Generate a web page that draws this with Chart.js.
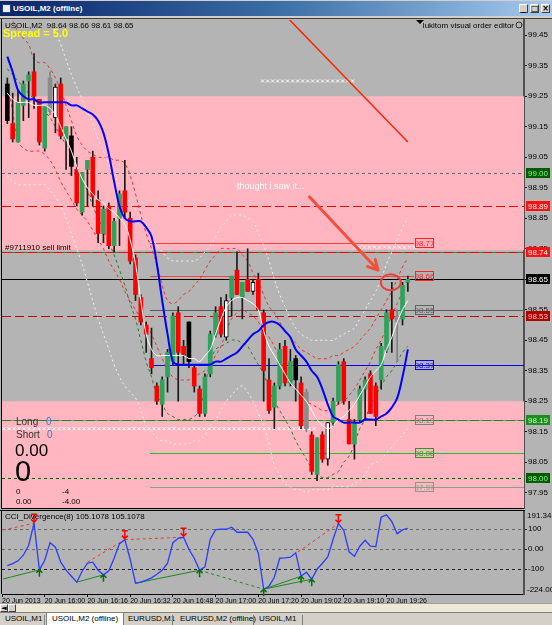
<!DOCTYPE html>
<html><head><meta charset="utf-8"><title>USOIL,M2</title>
<script src="https://cdn.jsdelivr.net/npm/chart.js@4.4.1/dist/chart.umd.min.js"></script>
<style>
*{box-sizing:border-box}
html,body{margin:0;padding:0;width:552px;height:625px;overflow:hidden;background:#d4d0c8;font-family:"Liberation Sans",Arial,sans-serif}
#title{position:absolute;left:0;top:1px;width:552px;height:15px;background:linear-gradient(to right,#0a246a 0%,#3a6ea5 50%,#a6caf0 100%)}
#title .ico{position:absolute;left:2px;top:3px;width:9px;height:9px;background:#e8eef8;border:1px solid #203c8c}
#title .txt{position:absolute;left:13px;top:1px;color:#fff;font:bold 8px "Liberation Sans",Arial,sans-serif;line-height:13px}
.wbtn{position:absolute;top:3px;width:9px;height:9px;background:#d4d0c8;border:1px solid;border-color:#fff #404040 #404040 #fff;font:bold 8px "DejaVu Sans";line-height:7px;text-align:center;color:#000}
#main{position:absolute;left:0;top:18px}
#cci{position:absolute;left:0;top:510px}
#scroll{position:absolute;left:0;top:603px;width:552px;height:9px;background:#ece9d8;border-top:1px solid #a0a0a0}
#scroll .b{position:absolute;top:0;width:8px;height:8px;background:#d4d0c8;border:1px solid;border-color:#fff #404040 #404040 #fff;font:7px "DejaVu Sans";line-height:6px;text-align:center}
#tabs{position:absolute;left:0;top:612px;width:552px;height:13px;background:#d4d0c8;border-top:1px solid #808080}
.tab{position:absolute;top:0;height:13px;font:8px "Liberation Sans",Arial;line-height:12px;color:#000;white-space:nowrap}
.tab.active{background:#fff;border:1px solid #808080;border-top:none;padding:0 5px}
.sep{position:absolute;top:2px;width:1px;height:10px;background:#808080}
</style></head>
<body>
<div id="title"><div class="ico"></div><div class="txt">USOIL,M2 (offline)</div>
<div class="wbtn" style="left:519px">_</div><div class="wbtn" style="left:530px">□</div><div class="wbtn" style="left:541px">×</div></div>
<canvas id="main" width="552" height="492"></canvas>
<canvas id="cci" width="552" height="93"></canvas>
<div id="scroll"><div class="b" style="left:0">◄</div><div class="b" style="left:8px"></div></div>
<div id="tabs">
<div class="tab" style="left:5px">USOIL,M1</div><div class="sep" style="left:44px"></div>
<div class="tab active" style="left:46px">USOIL,M2 (offline)</div>
<div class="tab" style="left:128px">EURUSD,M1</div><div class="sep" style="left:172px"></div>
<div class="tab" style="left:180px">EURUSD,M2 (offline)</div><div class="sep" style="left:253px"></div>
<div class="tab" style="left:259px">USOIL,M1</div><div class="sep" style="left:302px"></div>
</div>
<script>
// ---------------- DATA ----------------
const candleOpen  = [99.29,99.16,99.10,99.22,99.30,99.33,99.24,99.08,99.31,99.18,99.29,99.11,99.12,99.01,98.87,99.01,99.05,98.91,98.80,98.89,98.76,98.85,98.94,98.85,98.72,98.59,98.50,98.39,98.30,98.24,98.33,98.38,98.54,98.43,98.51,98.36,98.29,98.21,98.34,98.47,98.56,98.46,98.59,98.68,98.59,98.65,98.61,98.65,98.54,98.32,98.23,98.30,98.43,98.31,98.39,98.31,98.28,98.14,98.01,98.14,98.06,98.18,98.25,98.38,98.19,98.11,98.19,98.29,98.34,98.30,98.32,98.42,98.55,98.53,98.52,98.64];
const candleHigh  = [99.31,99.26,99.27,99.30,99.33,99.39,99.24,99.22,99.33,99.29,99.31,99.15,99.15,99.05,99.00,99.04,99.07,98.94,98.89,98.90,98.85,98.94,99.04,98.87,98.73,98.60,98.51,98.49,98.31,98.33,98.42,98.54,98.56,98.45,98.51,98.37,98.30,98.34,98.48,98.56,98.59,98.60,98.66,98.74,98.64,98.75,98.65,98.67,98.55,98.39,98.31,98.44,98.45,98.42,98.40,98.33,98.29,98.15,98.13,98.15,98.18,98.26,98.38,98.39,98.25,98.19,98.30,98.33,98.35,98.31,98.44,98.55,98.64,98.55,98.64,98.66];
const candleLow   = [99.16,99.10,99.10,99.17,99.18,99.21,99.09,99.07,99.19,99.13,99.11,99.01,98.99,98.89,98.86,98.89,98.89,98.77,98.77,98.75,98.74,98.76,98.85,98.70,98.58,98.50,98.41,98.34,98.24,98.20,98.28,98.37,98.25,98.37,98.36,98.28,98.20,98.20,98.33,98.46,98.46,98.45,98.53,98.60,98.52,98.61,98.60,98.55,98.25,98.21,98.16,98.29,98.30,98.30,98.25,98.16,98.15,98.01,97.99,98.05,98.04,98.17,98.24,98.24,98.11,98.06,98.18,98.19,98.21,98.17,98.29,98.41,98.41,98.38,98.50,98.61];
const candleClose = [99.17,99.11,99.23,99.29,99.32,99.25,99.10,99.22,99.20,99.28,99.12,99.15,99.02,98.90,99.00,99.04,98.92,98.80,98.88,98.76,98.84,98.93,98.87,98.71,98.60,98.51,98.47,98.36,98.25,98.32,98.41,98.53,98.41,98.40,98.38,98.30,98.21,98.33,98.47,98.54,98.47,98.58,98.66,98.60,98.64,98.61,98.64,98.55,98.35,98.22,98.30,98.42,98.31,98.38,98.32,98.17,98.16,98.02,98.13,98.06,98.18,98.25,98.37,98.25,98.11,98.18,98.29,98.32,98.21,98.20,98.43,98.54,98.52,98.51,98.63,98.65];
// bar category: g = up, r = down, k = black, w = white, s = grey
const candleKind  = ['k','r','g','g','g','r','r','g','s','w','r','g','k','r','g','g','r','r','g','r','g','g','r','r','r','r','r','r','r','g','g','g','r','r','k','r','r','g','g','g','r','w','g','r','g','r','w','r','r','r','g','g','r','g','k','r','s','r','g','r','w','g','g','r','r','g','g','g','r','r','g','g','r','s','g','g'];

const maBlue  = [99.38,99.33,99.27,99.25,99.24,99.24,99.23,99.23,99.23,99.23,99.23,99.23,99.22,99.22,99.21,99.20,99.19,99.17,99.13,99.06,98.97,98.89,98.85,98.84,98.84,98.84,98.82,98.79,98.70,98.58,98.47,98.38,98.37,98.37,98.37,98.37,98.37,98.37,98.37,98.38,98.38,98.39,98.40,98.41,98.43,98.45,98.47,98.48,98.50,98.51,98.51,98.50,98.48,98.46,98.42,98.40,98.38,98.35,98.33,98.29,98.24,98.20,98.19,98.18,98.18,98.18,98.18,98.19,98.19,98.19,98.20,98.21,98.23,98.26,98.33,98.42];
const maWhite = [99.26,99.24,99.23,99.23,99.23,99.22,99.22,99.22,99.21,99.19,99.15,99.11,99.07,99.02,98.98,98.95,98.93,98.91,98.90,98.88,98.87,98.85,98.83,98.78,98.70,98.58,98.47,98.42,98.40,98.40,98.40,98.40,98.40,98.40,98.39,98.39,98.38,98.40,98.42,98.47,98.52,98.56,98.58,98.59,98.59,98.58,98.57,98.55,98.48,98.43,98.40,98.37,98.34,98.31,98.29,98.27,98.25,98.22,98.19,98.17,98.16,98.17,98.19,98.20,98.22,98.24,98.27,98.30,98.33,98.35,98.37,98.42,98.46,98.51,98.55,98.58];
const bandUpper = [99.79,99.75,99.71,99.67,99.63,99.60,99.57,99.53,99.49,99.46,99.42,99.37,99.32,99.28,99.24,99.20,99.16,99.11,99.07,99.03,98.99,98.96,98.93,98.90,98.88,98.85,98.83,98.79,98.76,98.74,98.72,98.71,98.71,98.71,98.71,98.71,98.72,98.74,98.76,98.79,98.82,98.84,98.86,98.86,98.86,98.85,98.84,98.80,98.76,98.71,98.65,98.60,98.56,98.52,98.49,98.47,98.46,98.45,98.45,98.45,98.45,98.45,98.46,98.47,98.48,98.49,98.52,98.55,98.58,98.61,98.65,98.70,98.74,98.78,98.82,98.85];
const bandLower = [98.99,98.97,98.96,98.96,98.96,98.96,98.96,98.96,98.94,98.92,98.89,98.85,98.80,98.75,98.70,98.64,98.58,98.52,98.47,98.42,98.37,98.33,98.30,98.28,98.26,98.22,98.17,98.15,98.13,98.12,98.12,98.11,98.11,98.11,98.11,98.12,98.12,98.14,98.17,98.19,98.22,98.25,98.27,98.29,98.30,98.28,98.25,98.21,98.17,98.11,98.04,98.01,97.98,97.97,97.96,97.96,97.95,97.96,97.96,97.96,97.96,97.97,97.97,97.97,97.97,97.98,97.99,98.01,98.04,98.05,98.06,98.08,98.10,98.12,98.14,98.16];
const envUpper = [99.53,99.50,99.46,99.44,99.42,99.37,99.36,99.36,99.34,99.31,99.27,99.22,99.17,99.12,99.09,99.07,99.06,99.05,99.05,99.05,99.04,99.04,99.03,98.99,98.93,98.86,98.80,98.75,98.70,98.63,98.58,98.57,98.58,98.60,98.61,98.63,98.65,98.68,98.71,98.73,98.75,98.75,98.75,98.75,98.73,98.71,98.67,98.64,98.60,98.56,98.54,98.51,98.48,98.46,98.44,98.42,98.41,98.40,98.39,98.39,98.39,98.40,98.40,98.41,98.42,98.43,98.45,98.47,98.49,98.52,98.55,98.58,98.61,98.65,98.69,98.72];
const envLower = [99.30,99.20,99.10,99.08,99.07,99.07,99.07,99.06,99.04,99.01,98.97,98.94,98.91,98.88,98.86,98.84,98.81,98.78,98.75,98.71,98.68,98.65,98.61,98.58,98.55,98.52,98.50,98.47,98.43,98.39,98.35,98.33,98.32,98.32,98.32,98.33,98.34,98.35,98.37,98.40,98.43,98.48,98.52,98.54,98.55,98.54,98.53,98.51,98.48,98.46,98.43,98.39,98.35,98.33,98.30,98.28,98.25,98.24,98.23,98.22,98.22,98.23,98.24,98.25,98.27,98.29,98.32,98.35,98.38,98.42,98.45,98.49,98.53,98.57,98.61,98.65];
const channelLow = [99.34,99.32,99.30,99.28,99.26,99.24,99.22,99.20,99.18,99.15,99.12,99.09,99.06,99.02,98.97,98.94,98.89,98.85,98.81,98.77,98.73,98.68,98.63,98.57,98.52,98.45,98.38,98.33,98.27,98.24,98.21,98.20,98.19,98.19,98.19,98.20,98.22,98.30,98.38,98.42,98.43,98.44,98.45,98.45,98.44,98.43,98.40,98.37,98.34,98.29,98.25,98.22,98.19,98.16,98.12,98.09,98.06,98.03,98.01,98.00,98.00,98.01,98.02,98.05,98.07,98.11,98.16,98.19,98.24,98.27,98.30,98.33,98.35,98.38,98.41,98.43];

const trendLine = [[51.5, 99.525], [75, 99.10]];          // red trend line (bar index, price)
const zoneTop    = [99.25, 98.25];
const zoneBottom = [98.745, 97.90];
const levelPrices = [99.00, 98.89, 98.77, 98.74, 98.66, 98.65, 98.55, 98.53, 98.37, 98.19, 98.08, 98.00, 97.97];
const levelTags   = ['98.77','98.66','98.55','98.37','98.19','98.08','97.97'];
const levelTagPrices = [98.77, 98.66, 98.55, 98.37, 98.19, 98.08, 97.97];
const axisTagPrices = [99.00, 98.89, 98.74, 98.65, 98.53, 98.19, 98.00];
const priceTicks = [99.45,99.35,99.25,99.15,99.05,98.95,98.85,98.75,98.65,98.55,98.45,98.35,98.25,98.15,98.05,97.95];
const noteArrow = [[56.6, 98.92], [69.4, 98.68]];
const noteCircle = [71.8, 98.64];

const cciValues = [-82,-72,-58,-30,20,130,-103,-55,33,10,-65,-105,-135,-165,-110,-70,-65,-105,-128,-108,-45,28,48,-50,-170,-165,-155,-143,-125,-105,-70,33,55,60,0,-45,-105,-88,50,98,100,100,110,85,85,85,50,-20,-200,-185,-140,-45,-43,-40,-18,-135,-115,-150,-100,-70,-38,50,128,95,-13,-35,15,45,15,13,160,172,138,78,97,105];
const bearDivLines = [[-0.8,96,5,130],[15,-65,22,48],[22,48,33,60],[54.4,-14,62,128]];
const bullDivLines = [[-0.8,-149,6,-103],[13,-165,18,-128],[24,-170,36,-105],[48,-200,55,-135],[48,-200,57,-150]];
const bullDivDashed = [[36,-105,48,-200]];
const bearArrowIdx = [5,22,33,62];
const bullArrowIdx = [6,18,36,48,55,57];
const cciTicks = [100, 0, -100];
const cciTickLabels = ['100','0.00','-100'];
const cciMax = 191.3425, cciMin = -224.005;

const timeTickIdx = [-1,7,15,23,31,39,47,55,63,71];
const timeLabels = ['20 Jun 2013','20 Jun 16:00','20 Jun 16:16','20 Jun 16:32','20 Jun 16:48','20 Jun 17:00','20 Jun 17:20','20 Jun 19:02','20 Jun 19:10','20 Jun 19:26'];

// ---------------- STYLE ----------------
const BG = '#b4b4b4', PINK = '#ffb6c1';
const FONT = '"Liberation Sans", Arial, sans-serif';
const kindColor = {g:'#2ea35a', r:'#ff0000', k:'#000000', w:'#ffffff', s:'#8c8c8c'};
const XMIN = -1, XMAX = 96.75;
const toXY = arr => arr.map((v,i)=>({x:i, y:v}));
const seg = s => [{x:s[0],y:s[1]},{x:s[2],y:s[3]}];

const levelStyle = {
  '99':    {c:'#6a6a6a', d:[3,3], from:null},
  '98.89': {c:'#ff0000', d:[9,4], from:null},
  '98.77': {c:'#ff4040', d:[], from:26.7, to:76.2},
  '98.74': {c:'#ff0000', d:[9,4], from:null, under:'#2e8b2e'},
  '98.66': {c:'#ff4040', d:[], from:26.7, to:76.2},
  '98.65': {c:'#000000', d:[], from:null},
  '98.55': {c:'#5c5c5c', d:[], from:26.7},
  '98.53': {c:'#c00000', d:[9,4], from:null},
  '98.37': {c:'#0000ff', d:[], from:26.7},
  '98.19': {c:'#228b22', d:[9,3], from:null, under:'#a08080'},
  '98.08': {c:'#22c022', d:[], from:26.7},
  '98':    {c:'#006400', d:[3,3], from:null},
  '97.97': {c:'#8aa08a', d:[], from:26.7}
};
const tagStyle = {'98.77':'#ff2020','98.66':'#ff2020','98.55':'#606060','98.37':'#0000ff','98.19':'#808080','98.08':'#20a020','97.97':'#80a080'};
const axisTagStyle = {'99':['#005a00','#7cff7c'],'98.89':['#ff1010','#ffffff'],'98.74':['#ff1010','#ffffff'],'98.65':['#000000','#ffffff'],'98.53':['#b00000','#ffc0c0'],'98.19':['#1e8c1e','#c8ffc8'],'98':['#005a00','#7cff7c']};

function xRow(ctx, x1, x2, y){
  ctx.strokeStyle = '#ffffff'; ctx.lineWidth = 1; ctx.setLineDash([]);
  ctx.beginPath();
  for (let x = x1; x < x2; x += 5){ ctx.moveTo(x-1.5,y-1.5); ctx.lineTo(x+1.5,y+1.5); ctx.moveTo(x+1.5,y-1.5); ctx.lineTo(x-1.5,y+1.5); }
  ctx.stroke();
}

const mainDecor = {
  id:'mainDecor',
  beforeDraw(chart){
    const {ctx,width,height} = chart;
    ctx.save(); ctx.fillStyle = BG; ctx.fillRect(0,0,width,height); ctx.restore();
  },
  beforeDatasetsDraw(chart){
    const {ctx, chartArea:a, scales:{x,y}} = chart;
    ctx.save();
    ctx.beginPath(); ctx.rect(a.left,a.top,a.right-a.left,a.bottom-a.top); ctx.clip();
    ctx.fillStyle = PINK;
    zoneTop.forEach((t,k)=>{ const y1=y.getPixelForValue(t), y2=y.getPixelForValue(zoneBottom[k]); ctx.fillRect(a.left,y1,a.right-a.left,y2-y1); });
    levelPrices.forEach(p=>{
      const st = levelStyle[String(p)]; if(!st) return;
      const yy = Math.round(y.getPixelForValue(p))+0.5;
      const x1 = st.from==null ? a.left : x.getPixelForValue(st.from);
      const x2 = st.to==null ? a.right : x.getPixelForValue(st.to);
      ctx.lineWidth = 1;
      if (st.under){ ctx.setLineDash([]); ctx.strokeStyle = st.under; ctx.beginPath(); ctx.moveTo(x1,yy); ctx.lineTo(x2,yy); ctx.stroke(); }
      ctx.setLineDash(st.d); ctx.strokeStyle = st.c;
      ctx.beginPath(); ctx.moveTo(x1,yy); ctx.lineTo(x2,yy); ctx.stroke();
    });
    ctx.setLineDash([]);
    xRow(ctx, a.left+2, x.getPixelForValue(58.2), y.getPixelForValue(98.16));
    xRow(ctx, x.getPixelForValue(47.8), x.getPixelForValue(65), y.getPixelForValue(99.30));
    xRow(ctx, x.getPixelForValue(65), x.getPixelForValue(76.3), y.getPixelForValue(98.755));
    ctx.restore();
  },
  afterDatasetsDraw(chart){
    const {ctx, chartArea:a, scales:{x,y}} = chart;
    ctx.save();
    ctx.beginPath(); ctx.rect(a.left,a.top,a.right-a.left,a.bottom-a.top); ctx.clip();
    const ax1=x.getPixelForValue(noteArrow[0][0]), ay1=y.getPixelForValue(noteArrow[0][1]);
    const ax2=x.getPixelForValue(noteArrow[1][0]), ay2=y.getPixelForValue(noteArrow[1][1]);
    const ang=Math.atan2(ay2-ay1,ax2-ax1);
    ctx.strokeStyle='#f0503c'; ctx.lineWidth=3; ctx.lineCap='round';
    ctx.beginPath(); ctx.moveTo(ax1,ay1); ctx.lineTo(ax2,ay2);
    ctx.moveTo(ax2,ay2); ctx.lineTo(ax2-11*Math.cos(ang-0.5), ay2-11*Math.sin(ang-0.5));
    ctx.moveTo(ax2,ay2); ctx.lineTo(ax2-11*Math.cos(ang+0.5), ay2-11*Math.sin(ang+0.5));
    ctx.stroke();
    ctx.lineWidth=2; ctx.strokeStyle='#e8403a';
    ctx.beginPath(); ctx.ellipse(x.getPixelForValue(noteCircle[0]), y.getPixelForValue(noteCircle[1]), 10, 8, 0, 0, Math.PI*2); ctx.stroke();
    ctx.fillStyle='#ffffff'; ctx.font='9px '+FONT; ctx.textBaseline='middle'; ctx.textAlign='left';
    ctx.fillText('thought i saw it...', x.getPixelForValue(43.0), y.getPixelForValue(98.955));
    ctx.font='8px '+FONT; ctx.textAlign='center';
    levelTagPrices.forEach((p,k)=>{
      const c = tagStyle[String(p)]; const yy=Math.round(y.getPixelForValue(p));
      const bx = Math.round(x.getPixelForValue(76.3));
      ctx.strokeStyle=c; ctx.lineWidth=1; ctx.strokeRect(bx+0.5, yy-4.5, 18, 9);
      ctx.fillStyle=c; ctx.fillText(levelTags[k], bx+9.5, yy+0.5);
    });
    ctx.textAlign='left'; ctx.textBaseline='alphabetic';
    ctx.fillStyle='#000'; ctx.font='8px '+FONT;
    ctx.fillText('#9711910 sell limit', a.left+3, y.getPixelForValue(98.74)-2);
    ctx.font='8px '+FONT; ctx.fillText('USOIL,M2  98.64 98.66 98.61 98.65', a.left+3, a.top+8);
    ctx.font='bold 11px '+FONT; ctx.fillStyle='#ffff00'; ctx.fillText('Spread = 5.0', a.left+1, a.top+17);
    ctx.font='8px '+FONT; ctx.fillStyle='#000'; ctx.textAlign='right';
    ctx.fillText('lukitom visual order editor', a.right-10, a.top+8);
    ctx.beginPath(); ctx.strokeStyle='#333'; ctx.lineWidth=1; ctx.arc(a.right-5, a.top+5, 3, 0, Math.PI*2); ctx.stroke();
    ctx.fillStyle='#000'; ctx.beginPath(); ctx.moveTo(416,a.top); ctx.lineTo(424,a.top); ctx.lineTo(420,a.top+4); ctx.closePath(); ctx.fill();
    ctx.textAlign='left';
    const yl = y.getPixelForValue(98.19);
    ctx.font='10px '+FONT; ctx.fillStyle='#333'; ctx.fillText('Long', 16, yl+5);
    ctx.fillStyle='#3c78c8'; ctx.fillText('0', 46, yl+5);
    ctx.fillStyle='#333'; ctx.fillText('Short', 16, yl+18);
    ctx.fillStyle='#3c78c8'; ctx.fillText('0', 47, yl+18);
    ctx.fillStyle='#000'; ctx.font='17px '+FONT; ctx.fillText('0.00', 15, yl+36);
    ctx.font='29px '+FONT; ctx.fillText('0', 15, yl+61);
    ctx.font='8px '+FONT; ctx.fillText('0', 16, yl+74); ctx.fillText('-4', 62, yl+74);
    ctx.fillText('0.00', 16, yl+84); ctx.fillText('-4.00', 62, yl+84);
    ctx.restore();
    ctx.save(); ctx.font='8px '+FONT; ctx.textBaseline='middle'; ctx.textAlign='left';
    axisTagPrices.forEach(p=>{
      const c=axisTagStyle[String(p)]; const yy=Math.round(y.getPixelForValue(p));
      ctx.fillStyle=c[0]; ctx.fillRect(a.right+2, yy-5, 24, 10);
      ctx.fillStyle=c[1]; ctx.fillText(p.toFixed(2), a.right+4, yy+0.5);
    });
    ctx.fillStyle='#404040'; ctx.fillRect(0, a.top-2, chart.width, 1);
    ctx.fillStyle='#000'; ctx.fillRect(a.left-1, a.top-1, 1, a.bottom-a.top+2);
    ctx.fillRect(a.left-1, a.bottom, a.right-a.left+1, 1);
    ctx.restore();
  }
};

const lineDS = (data, color, width, dash, order) => ({type:'line', data, borderColor:color, borderWidth:width, borderDash:dash, pointRadius:0, tension:0.35, order, fill:false});

new Chart(document.getElementById('main'), {
  type:'bar',
  data:{datasets:[
    lineDS(trendLine.map(p=>({x:p[0],y:p[1]})), '#ff2400', 1.5, [], 0),
    lineDS(toXY(maBlue), '#0000ff', 2, [], 1),
    lineDS(toXY(maWhite), '#ffffff', 1, [], 1),
    {type:'bar', data: candleOpen.map((o,i)=>({x:i, y:[o, candleClose[i]]})), grouped:false, barThickness:4, minBarLength:1,
      backgroundColor: c=>kindColor[candleKind[c.dataIndex]], borderColor:'#000', borderWidth: c=>candleKind[c.dataIndex]==='w'?1:0, borderSkipped:false, order:2},
    {type:'bar', data: candleLow.map((l,i)=>({x:i, y:[l, candleHigh[i]]})), grouped:false, barThickness:1,
      backgroundColor: c=>candleKind[c.dataIndex]==='s'?'#808080':'#1a1a1a', borderWidth:0, order:3},
    lineDS(toXY(bandUpper), '#f4f4f4', 1, [2,3], 4),
    lineDS(toXY(bandLower), '#f4f4f4', 1, [2,3], 4),
    lineDS(toXY(envUpper), '#e83030', 1, [3,3], 4),
    lineDS(toXY(envLower), '#e83030', 1, [3,3], 4),
    lineDS(toXY(channelLow), '#2a7a2a', 1, [3,3], 4)
  ]},
  options:{
    responsive:false, animation:false, events:[],
    layout:{padding:{left:2, top:2, right:0, bottom:2}},
    plugins:{legend:{display:false}, tooltip:{enabled:false}},
    scales:{
      x:{type:'linear', min:XMIN, max:XMAX, display:false, offset:false},
      y:{position:'right', min:97.90, max:99.50, beginAtZero:false,
        afterBuildTicks:s=>{ s.ticks = priceTicks.map(v=>({value:v})); },
        afterFit:s=>{ s.width = 28; s.paddingTop = 0; s.paddingBottom = 0; },
        ticks:{callback:v=>Number(v).toFixed(2), font:{size:8, family:FONT}, color:'#000', padding:1, autoSkip:false},
        grid:{drawOnChartArea:false, tickLength:3, color:'#000'},
        border:{display:true, color:'#505050', width:2}}
    }
  },
  plugins:[mainDecor]
});

// ---------------- CCI panel ----------------
const cciDecor = {
  id:'cciDecor',
  beforeDraw(chart){ const {ctx,width,height}=chart; ctx.save(); ctx.fillStyle=BG; ctx.fillRect(0,0,width,height); ctx.restore(); },
  beforeDatasetsDraw(chart){
    const {ctx, chartArea:a, scales:{y}} = chart;
    ctx.save(); ctx.lineWidth=1; ctx.setLineDash([3,3]);
    [[100,'#6a6a6a'],[0,'#6a6a6a'],[-100,'#202020']].forEach(([v,c])=>{
      const yy=Math.round(y.getPixelForValue(v))+0.5; ctx.strokeStyle=c;
      ctx.beginPath(); ctx.moveTo(a.left,yy); ctx.lineTo(a.right,yy); ctx.stroke();
    });
    ctx.restore();
  },
  afterDatasetsDraw(chart){
    const {ctx, chartArea:a, scales:{x,y}} = chart;
    ctx.save();
    ctx.lineWidth=1.5;
    bearArrowIdx.forEach(i=>{
      const px=x.getPixelForValue(i), py=y.getPixelForValue(cciValues[i]);
      ctx.strokeStyle='#ff0000'; ctx.beginPath();
      ctx.moveTo(px,py-9); ctx.lineTo(px,py-1); ctx.moveTo(px-3,py-9); ctx.lineTo(px+3,py-9);
      ctx.moveTo(px-3,py-4); ctx.lineTo(px,py-1); ctx.lineTo(px+3,py-4); ctx.stroke();
    });
    bullArrowIdx.forEach(i=>{
      const px=x.getPixelForValue(i), py=y.getPixelForValue(cciValues[i]);
      ctx.strokeStyle='#007000'; ctx.beginPath();
      ctx.moveTo(px,py+7); ctx.lineTo(px,py); ctx.moveTo(px-3,py+3); ctx.lineTo(px,py); ctx.lineTo(px+3,py+3); ctx.stroke();
    });
    ctx.fillStyle='#000'; ctx.font='8px '+FONT; ctx.textBaseline='top'; ctx.textAlign='left';
    ctx.fillText('CCI_Divergence(8) 105.1078 105.1078', a.left+3, a.top+2);
    ctx.fillText(String(cciMax), a.right+3, a.top+1);
    ctx.textBaseline='bottom';
    ctx.fillText(String(cciMin), a.right+3, a.bottom);
    ctx.fillStyle='#000'; ctx.fillRect(0, a.top-1, a.right+1, 1);
    ctx.fillRect(a.left-1, a.top-1, 1, a.bottom-a.top+1);
    ctx.restore();
  }
};

new Chart(document.getElementById('cci'), {
  type:'line',
  data:{datasets:[
    {data:toXY(cciValues), borderColor:'#2a3cff', borderWidth:1.3, pointRadius:0, tension:0, order:0},
    ...bearDivLines.map(s=>({data:seg(s), borderColor:'#ff3030', borderWidth:1, borderDash:[3,3], pointRadius:0, order:1})),
    ...bullDivLines.map(s=>({data:seg(s), borderColor:'#1f8a1f', borderWidth:1, pointRadius:0, order:1})),
    ...bullDivDashed.map(s=>({data:seg(s), borderColor:'#1f8a1f', borderWidth:1, borderDash:[3,3], pointRadius:0, order:1}))
  ]},
  options:{
    responsive:false, animation:false, events:[],
    layout:{padding:{left:2, top:1, right:0, bottom:0}},
    plugins:{legend:{display:false}, tooltip:{enabled:false}},
    scales:{
      x:{type:'linear', min:XMIN, max:XMAX, position:'bottom',
        afterBuildTicks:s=>{ s.ticks = timeTickIdx.map(v=>({value:v})); },
        afterFit:s=>{ s.height = 9; s.paddingLeft = 0; s.paddingRight = 0; },
        ticks:{callback:(v,i)=>timeLabels[i], align:'start', maxRotation:0, minRotation:0, autoSkip:false, font:{size:7, family:FONT}, color:'#000', padding:0},
        grid:{drawOnChartArea:false, tickLength:3, color:'#000'},
        border:{display:true, color:'#000', width:1}},
      y:{position:'right', min:cciMin, max:cciMax,
        afterBuildTicks:s=>{ s.ticks = cciTicks.map(v=>({value:v})); },
        afterFit:s=>{ s.width = 28; s.paddingTop = 0; s.paddingBottom = 0; },
        ticks:{callback:(v,i)=>cciTickLabels[i], font:{size:8, family:FONT}, color:'#000', padding:1},
        grid:{drawOnChartArea:false, tickLength:3, color:'#000'},
        border:{display:true, color:'#505050', width:2}}
    }
  },
  plugins:[cciDecor]
});
</script>
</body></html>
